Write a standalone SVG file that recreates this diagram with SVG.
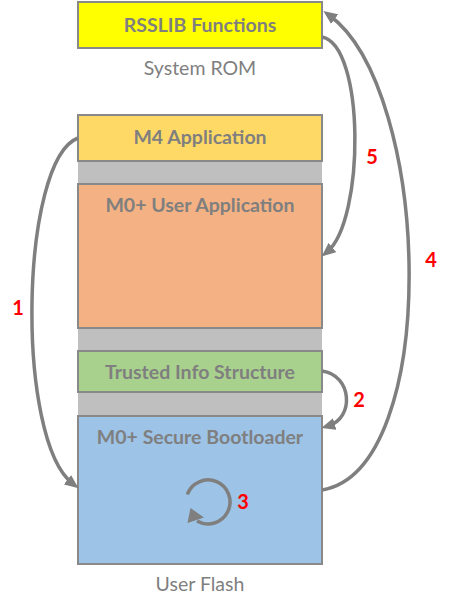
<svg xmlns="http://www.w3.org/2000/svg" width="450" height="611" viewBox="0 0 450 611">
<style>
.box{stroke:#898989;stroke-width:2}
.t{font-family:Lato,"Open Sans",sans-serif;font-weight:bold;font-size:19.5px;fill:#7f7f7f;text-anchor:middle}
.cap{font-family:Lato,"Open Sans",sans-serif;font-size:19.5px;fill:#7f7f7f;text-anchor:middle}
.n{font-family:Lato,"Open Sans",sans-serif;font-weight:bold;font-size:20px;fill:#ff0000;text-anchor:middle}
.c{fill:none;stroke:#7f7f7f;stroke-width:3.5}
</style>
<defs>
<marker id="ah" markerUnits="userSpaceOnUse" markerWidth="14" markerHeight="12" refX="7" refY="6" orient="auto">
<path d="M0,0 L14,6 L0,12 z" fill="#7f7f7f"/>
</marker>
</defs>
<rect x="78" y="161" width="244" height="255" fill="#bfbfbf"/>
<g id="rsslib"><rect class="box" x="78" y="2" width="244" height="46" fill="#ffff00"/><text class="t" x="200" y="32">RSSLIB Functions</text></g>
<g id="sysrom"><text class="cap" x="200" y="75">System ROM</text></g>
<g id="m4"><rect class="box" x="78" y="115" width="244" height="46" fill="#ffd966"/><text class="t" x="200" y="144">M4 Application</text></g>
<g id="m0user"><rect class="box" x="78" y="184" width="244" height="144" fill="#f4b183"/><text class="t" x="200" y="212">M0+ User Application</text></g>
<g id="tis"><rect class="box" x="78" y="351" width="244" height="41" fill="#a9d18e"/><text class="t" x="200" y="379">Trusted Info Structure</text></g>
<g id="boot"><rect class="box" x="78" y="416" width="244" height="148" fill="#9dc3e6"/><text class="t" x="200" y="444">M0+ Secure Bootloader</text></g>
<g id="userflash"><text class="cap" x="200" y="591">User Flash</text></g>
<g id="connectors">
<path class="c" d="M78,138 C20,160 15,440 73,484" marker-end="url(#ah)"/>
<path class="c" d="M322,371 C352,375 355,418 328,426" marker-end="url(#ah)"/>
<path class="c" d="M322,37 C365,45 365,220 327,252" marker-end="url(#ah)"/>
<path class="c" d="M322,490 C442,470 432,90 329,15" marker-end="url(#ah)"/>
<path class="c" d="M187.3,494.5 A22,22 0 1 1 197,521"/>
<polygon points="190.5,508 187.5,523 204,517.5" fill="#7f7f7f"/>
</g>
<g id="labels">
<text class="n" x="18" y="315">1</text>
<text class="n" x="359" y="407">2</text>
<text class="n" x="243" y="509">3</text>
<text class="n" x="431" y="267">4</text>
<text class="n" x="372" y="164">5</text>
</g>
</svg>
